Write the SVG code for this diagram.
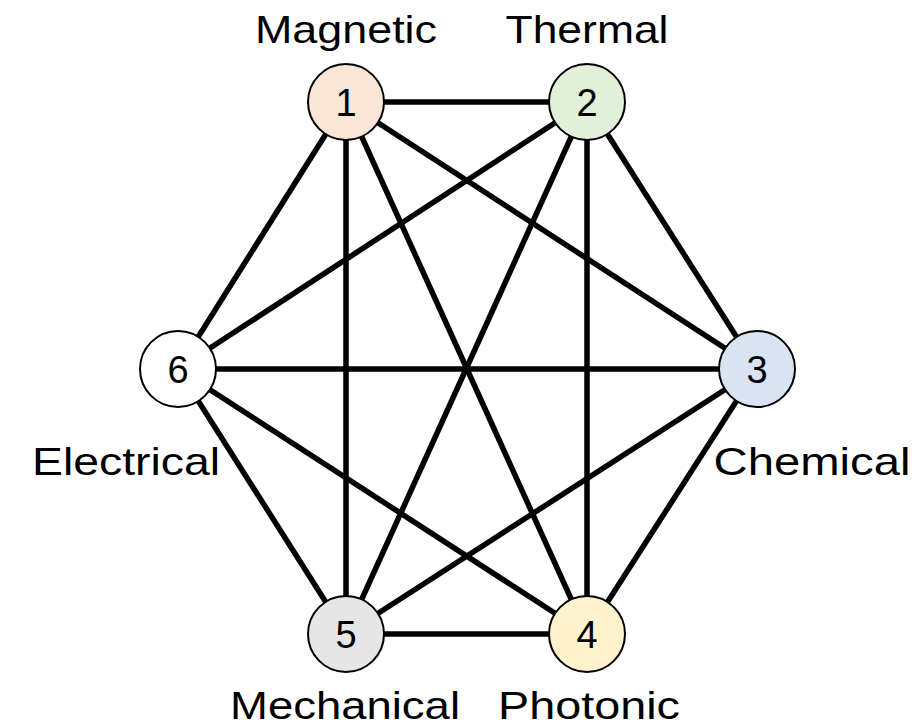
<svg xmlns="http://www.w3.org/2000/svg" width="922" height="728" viewBox="0 0 922 728">
<style>
.edge{stroke:#000;stroke-width:5.5;fill:none}
.node{stroke:#000;stroke-width:2}
.num{font-family:"Liberation Sans",Arial,sans-serif;font-size:38px;text-anchor:middle;fill:#000}
.lbl{font-family:"Liberation Sans",Arial,sans-serif;font-size:39px;text-anchor:middle;fill:#000}
</style>
<rect width="922" height="728" fill="#fff"/>
<g id="connectors">
<line class="edge" x1="346" y1="102" x2="587" y2="102"/>
<line class="edge" x1="346" y1="102" x2="757" y2="369"/>
<line class="edge" x1="346" y1="102" x2="587" y2="634"/>
<line class="edge" x1="346" y1="102" x2="346" y2="634"/>
<line class="edge" x1="346" y1="102" x2="178" y2="369"/>
<line class="edge" x1="587" y1="102" x2="757" y2="369"/>
<line class="edge" x1="587" y1="102" x2="587" y2="634"/>
<line class="edge" x1="587" y1="102" x2="346" y2="634"/>
<line class="edge" x1="587" y1="102" x2="178" y2="369"/>
<line class="edge" x1="757" y1="369" x2="587" y2="634"/>
<line class="edge" x1="757" y1="369" x2="346" y2="634"/>
<line class="edge" x1="757" y1="369" x2="178" y2="369"/>
<line class="edge" x1="587" y1="634" x2="346" y2="634"/>
<line class="edge" x1="587" y1="634" x2="178" y2="369"/>
<line class="edge" x1="346" y1="634" x2="178" y2="369"/>
</g>
<g id="node1"><circle class="node" cx="346" cy="102" r="38" fill="#FBE5D6"/><text class="num" x="346" y="116">1</text><text class="lbl" x="346" y="43" textLength="182" lengthAdjust="spacingAndGlyphs">Magnetic</text></g>
<g id="node2"><circle class="node" cx="587" cy="102" r="38" fill="#E2F0D9"/><text class="num" x="587" y="116">2</text><text class="lbl" x="587" y="43" textLength="163" lengthAdjust="spacingAndGlyphs">Thermal</text></g>
<g id="node3"><circle class="node" cx="757" cy="369" r="38" fill="#DAE3F3"/><text class="num" x="757" y="383">3</text><text class="lbl" x="812" y="475" textLength="197" lengthAdjust="spacingAndGlyphs">Chemical</text></g>
<g id="node4"><circle class="node" cx="587" cy="634" r="38" fill="#FFF2CC"/><text class="num" x="587" y="648">4</text><text class="lbl" x="589" y="719" textLength="182" lengthAdjust="spacingAndGlyphs">Photonic</text></g>
<g id="node5"><circle class="node" cx="346" cy="634" r="38" fill="#E7E6E6"/><text class="num" x="346" y="648">5</text><text class="lbl" x="345" y="719" textLength="230" lengthAdjust="spacingAndGlyphs">Mechanical</text></g>
<g id="node6"><circle class="node" cx="178" cy="369" r="38" fill="#FFFFFF"/><text class="num" x="178" y="383">6</text><text class="lbl" x="126" y="475" textLength="188" lengthAdjust="spacingAndGlyphs">Electrical</text></g>
</svg>
